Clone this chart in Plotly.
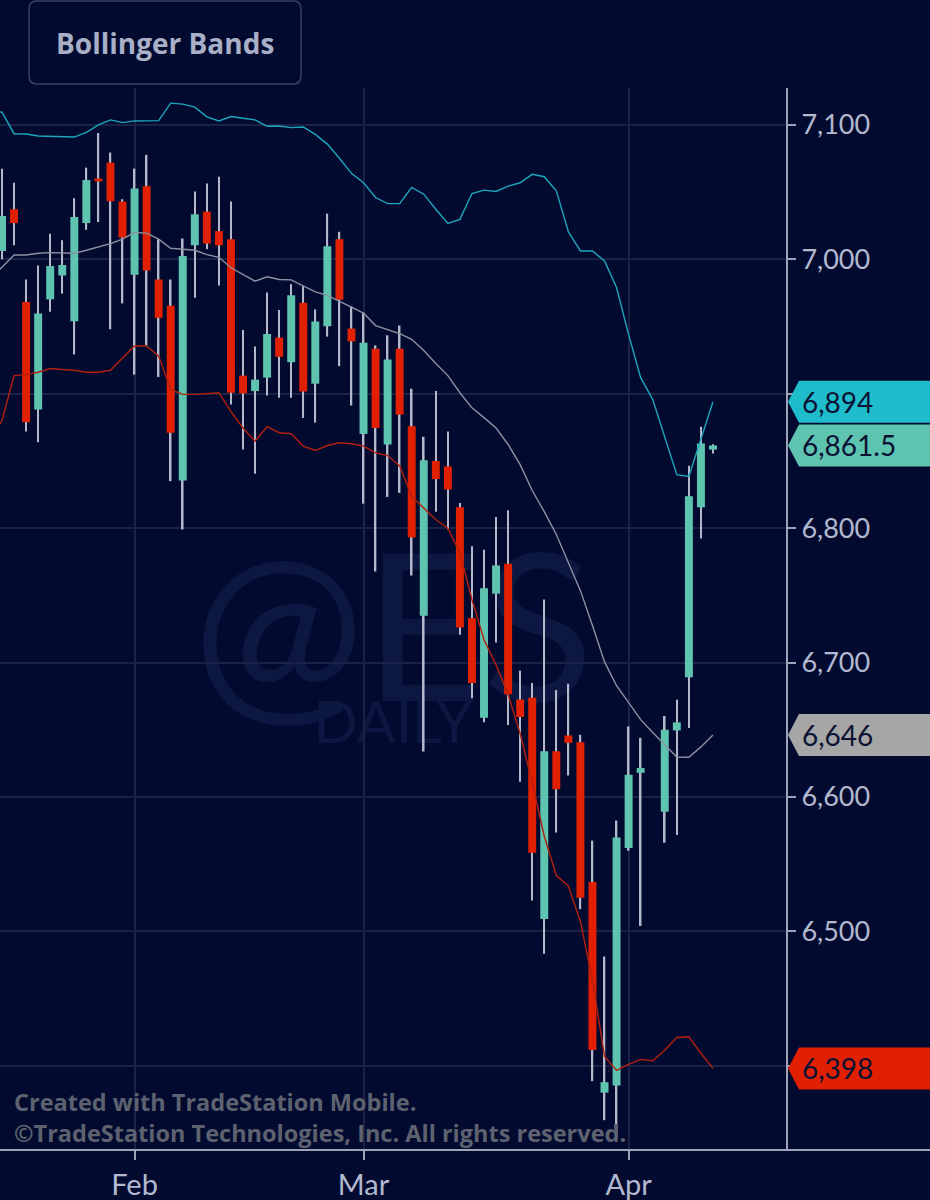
import plotly.graph_objects as go

# daily bars, ES futures (Apr 3 slot has no bar)
dates = [
    "2026-01-14", "2026-01-15", "2026-01-16", "2026-01-20", "2026-01-21", "2026-01-22", "2026-01-23",
    "2026-01-26", "2026-01-27", "2026-01-28", "2026-01-29", "2026-01-30",
    "2026-02-02", "2026-02-03", "2026-02-04", "2026-02-05", "2026-02-06",
    "2026-02-09", "2026-02-10", "2026-02-11", "2026-02-12", "2026-02-13",
    "2026-02-17", "2026-02-18", "2026-02-19", "2026-02-20",
    "2026-02-23", "2026-02-24", "2026-02-25", "2026-02-26", "2026-02-27",
    "2026-03-02", "2026-03-03", "2026-03-04", "2026-03-05", "2026-03-06",
    "2026-03-09", "2026-03-10", "2026-03-11", "2026-03-12", "2026-03-13",
    "2026-03-16", "2026-03-17", "2026-03-18", "2026-03-19", "2026-03-20",
    "2026-03-23", "2026-03-24", "2026-03-25", "2026-03-26", "2026-03-27",
    "2026-03-30", "2026-03-31", "2026-04-01", "2026-04-02", "2026-04-03",
    "2026-04-06", "2026-04-07", "2026-04-08", "2026-04-09", "2026-04-10",
]

opens = [None, 7006.25, 7037.25, 6968.25, 6888.25, 6970.25, 6988.0, 6954.0, 7027.0, 7060.25, 7072.0, 7043.0,
         6988.5, 7054.5, 6985.0, 6965.5, 6835.5, 7010.5, 7035.5, 7021.0, 7015.0, 6913.5,
         6902.0, 6912.0, 6941.75, 6923.5, 6967.75, 6907.5, 6950.25, 7015.0, 6948.5,
         6870.0, 6933.5, 6862.25, 6933.5, 6875.75, 6734.75, 6850.0, 6846.0, 6815.5, 6733.0,
         6659.0, 6751.25, 6773.5, 6672.5, 6673.75, 6509.25, 6634.0, 6645.75, 6640.75, 6536.75,
         6380.0, 6385.25, 6562.0, 6618.0, None, 6589.0, 6649.5, 6689.0, 6815.5, 6858.5]
highs = [None, 7067.5, 7057.0, 6985.0, 6995.5, 7019.0, 7014.25, 7045.5, 7068.25, 7094.0, 7079.5, 7044.75,
         7067.5, 7077.75, 7015.0, 6985.0, 7015.5, 7050.5, 7056.5, 7061.5, 7043.0, 6947.5,
         6935.25, 6975.25, 6962.25, 6981.5, 6980.0, 6962.75, 7034.0, 7020.5, 6965.25,
         6960.5, 6936.0, 6943.5, 6950.75, 6903.75, 6868.0, 6902.0, 6872.0, 6818.75, 6786.5,
         6784.0, 6808.25, 6813.25, 6694.0, 6684.75, 6747.0, 6679.5, 6684.25, 6646.25, 6567.5,
         6481.25, 6582.5, 6652.5, 6644.0, None, 6660.25, 6672.25, 6846.5, 6875.5, 6862.5]
lows = [None, 7000.0, 7010.5, 6872.0, 6864.0, 6961.0, 6974.5, 6929.25, 7022.0, 7027.75, 6948.0, 6967.25,
        6914.25, 6936.0, 6912.5, 6835.0, 6799.0, 6971.5, 7007.5, 6980.5, 6892.0, 6858.5,
        6840.5, 6898.75, 6897.0, 6897.0, 6882.0, 6878.5, 6942.5, 6920.5, 6891.25,
        6818.25, 6767.75, 6823.25, 6826.25, 6764.75, 6633.75, 6812.25, 6799.0, 6720.75, 6673.5,
        6655.5, 6715.0, 6653.5, 6611.25, 6523.0, 6483.25, 6573.5, 6616.0, 6516.5, 6388.5,
        6359.5, 6346.0, 6560.0, 6504.0, None, 6566.0, 6571.75, 6651.25, 6792.25, 6855.5]
closes = [None, 7032.25, 7027.0, 6878.75, 6959.75, 6995.0, 6995.75, 7031.5, 7059.0, 7058.0, 7043.25, 7016.25,
          7052.75, 6991.75, 6956.5, 6871.0, 7002.5, 7033.5, 7011.75, 7010.5, 6900.75, 6900.25,
          6910.5, 6944.5, 6927.5, 6973.25, 6901.75, 6953.75, 7009.75, 6970.0, 6939.0,
          6938.0, 6874.5, 6925.5, 6884.5, 6793.0, 6850.5, 6836.5, 6828.75, 6726.0, 6684.75,
          6755.25, 6772.25, 6676.5, 6659.5, 6558.5, 6634.0, 6605.75, 6640.25, 6525.0, 6411.75,
          6387.75, 6569.75, 6616.5, 6621.5, None, 6650.0, 6655.5, 6823.75, 6863.0, 6861.5]

upper_band = [7111.0, 7109.5, 7093.5, 7093.25, 7091.75, 7091.5, 7091.0, 7091.0, 7094.5, 7100.0, 7103.75, 7101.75,
              7103.0, 7103.25, 7103.25, 7116.25, 7115.5, 7113.25, 7106.0, 7103.0, 7106.25, 7105.0,
              7103.75, 7099.0, 7099.25, 7098.0, 7098.5, 7093.0, 7085.75, 7075.25, 7064.0,
              7057.0, 7046.0, 7041.5, 7041.5, 7053.5, 7048.5, 7037.25, 7026.75, 7029.75, 7049.0,
              7051.5, 7050.5, 7054.5, 7057.0, 7063.25, 7061.5, 7051.0, 7020.5, 7006.25, 7006.25,
              6998.75, 6979.0, 6944.0, 6912.0, 6895.75, 6867.75, 6839.75, 6838.5, 6866.25, 6894.0]
middle_band = [6985.0, 6994.0, 7003.25, 7003.25, 7004.5, 7005.0, 7004.5, 7004.5, 7006.75, 7009.25, 7011.75, 7015.0,
               7020.0, 7019.5, 7015.0, 7008.25, 7007.5, 7006.75, 7003.5, 7001.5, 6993.75, 6988.75,
               6983.75, 6987.0, 6985.0, 6984.75, 6980.0, 6975.75, 6973.25, 6969.0, 6964.25,
               6960.0, 6950.75, 6948.0, 6944.75, 6940.5, 6932.25, 6922.5, 6913.5, 6900.75, 6889.5,
               6882.25, 6874.5, 6862.25, 6847.25, 6828.0, 6812.25, 6795.25, 6775.0, 6753.5, 6727.5,
               6700.5, 6682.75, 6670.0, 6657.5, 6648.0, 6638.75, 6629.75, 6629.5, 6637.25, 6646.0]
lower_band = [6866.0, 6880.0, 6913.5, 6914.25, 6916.0, 6918.75, 6918.0, 6917.5, 6916.0, 6916.0, 6917.5, 6926.75,
              6935.5, 6935.5, 6928.0, 6903.25, 6899.5, 6899.5, 6900.25, 6900.75, 6886.75, 6874.5,
              6864.75, 6875.5, 6871.0, 6870.25, 6861.0, 6857.75, 6861.5, 6863.5, 6862.75,
              6861.0, 6856.0, 6854.0, 6846.25, 6823.75, 6815.0, 6806.25, 6800.0, 6781.5, 6746.75,
              6717.0, 6698.25, 6676.25, 6647.0, 6610.5, 6570.75, 6541.5, 6533.75, 6507.25, 6463.75,
              6407.0, 6396.5, 6401.0, 6404.75, 6403.75, 6411.5, 6421.0, 6421.5, 6409.25, 6398.0]

month_ticks = ["2026-02-02", "2026-03-02", "2026-04-01"]
month_labels = ["Feb", "Mar", "Apr"]
# 6,400 and 6,900 sit under the value tags, so their labels stay blank
price_ticks = [6400, 6500, 6600, 6700, 6800, 6900, 7000, 7100]
price_labels = ["", "6,500", "6,600", "6,700", "6,800", "", "7,000", "7,100"]

BG = "#020b2f"
GRID = "#1a2345"
AXIS = "#9ea4b8"
TEXT = "#b3b9cf"
UP = "#5ec4b0"
DOWN = "#e02000"
WICK = "#b4b8ca"
FONT = "Lato"
BOLD = "Open Sans"

wick_len = [None if h is None else h - l for h, l in zip(highs, lows)]
body_base = [None if o is None else min(o, c) for o, c in zip(opens, closes)]
body_len = [None if o is None else abs(c - o) for o, c in zip(opens, closes)]
body_col = [UP if (o is None or c >= o) else DOWN for o, c in zip(opens, closes)]

fig = go.Figure()
# wicks and bodies as overlaid bars so the wick sits behind the body
fig.add_trace(go.Bar(x=dates, y=wick_len, base=lows, width=0.13,
                     marker=dict(color=WICK, line=dict(width=0)), hoverinfo="skip"))
fig.add_trace(go.Bar(x=dates, y=body_len, base=body_base, width=0.66,
                     marker=dict(color=body_col, line=dict(width=0)), hoverinfo="skip"))
fig.add_trace(go.Scatter(x=dates, y=upper_band, mode="lines", line=dict(color="#1fa6bd", width=1.4)))
fig.add_trace(go.Scatter(x=dates, y=middle_band, mode="lines", line=dict(color="#8e90a2", width=1.4)))
fig.add_trace(go.Scatter(x=dates, y=lower_band, mode="lines", line=dict(color="#b3200f", width=1.4)))

fig.update_layout(
    width=930,
    height=1200,
    paper_bgcolor=BG,
    plot_bgcolor=BG,
    margin=dict(l=0, r=144, t=88, b=50),
    barmode="overlay",
    showlegend=False,
    hovermode=False,
    font=dict(family=FONT, color=TEXT),
    xaxis=dict(type="category", range=[0.834, 66.06], tickmode="array",
               tickvals=month_ticks, ticktext=month_labels,
               showgrid=True, gridcolor=GRID, gridwidth=2,
               ticks="outside", ticklen=9, tickwidth=2, tickcolor=AXIS,
               tickfont=dict(family=FONT, size=29, color=TEXT),
               showline=False, zeroline=False),
    yaxis=dict(side="right", range=[6337.3, 7127.5], tickmode="array",
               tickvals=price_ticks, ticktext=price_labels,
               showgrid=True, gridcolor=GRID, gridwidth=2,
               ticks="outside", ticklen=8, tickwidth=2, tickcolor=AXIS,
               showline=True, linecolor=AXIS, linewidth=2,
               tickfont=dict(family=FONT, size=27, color=TEXT), zeroline=False),
)

# watermark behind the bars
fig.add_shape(type="rect", xref="paper", yref="paper", x0=0.25, x1=0.75, y0=0.45, y1=0.55,
              line=dict(width=0), fillcolor="rgba(0,0,0,0)", layer="below",
              label=dict(text="@ES", textposition="middle center",
                         font=dict(family=FONT, size=205, color="#0c1841")))
fig.add_shape(type="rect", xref="paper", yref="paper", x0=0.35, x1=0.65, y0=0.38, y1=0.43,
              line=dict(width=0), fillcolor="rgba(0,0,0,0)", layer="below",
              label=dict(text="DAILY", textposition="middle center",
                         font=dict(family=FONT, size=58, color="#0c1841")))

# bottom axis line runs the full width
fig.add_shape(type="line", xref="paper", yref="paper", x0=0, x1=930 / 786, y0=0, y1=0,
              line=dict(color=AXIS, width=2), layer="above")

# title box
fig.add_shape(type="path", xref="paper", yref="paper", xsizemode="pixel", ysizemode="pixel",
              xanchor=0, yanchor=1,
              path="M 37,87 H 293 Q 301,87 301,79 V 12 Q 301,4 293,4 H 37 Q 29,4 29,12 V 79 Q 29,87 37,87 Z",
              fillcolor=BG, line=dict(color="#384262", width=1.5), layer="above")
fig.add_annotation(xref="paper", yref="paper", x=165 / 786, y=(1150 - 43) / 1062,
                   text="<b>Bollinger Bands</b>", showarrow=False, xanchor="center", yanchor="middle",
                   font=dict(family=BOLD, size=28, color="#a8afc6"))

# last value tags on the price scale
tags = [
    (upper_band[-1], f"{upper_band[-1]:,.0f}", "#1fbccb"),
    (closes[-1], f"{closes[-1]:,.1f}", UP),
    (middle_band[-1], f"{middle_band[-1]:,.0f}", "#a6a6a6"),
    (lower_band[-1], f"{lower_band[-1]:,.0f}", DOWN),
]
for val, label, color in tags:
    fig.add_shape(type="path", xref="paper", yref="y", xsizemode="pixel", ysizemode="pixel",
                  xanchor=1, yanchor=val,
                  path="M 2,0 L 13,21 L 150,21 L 150,-21 L 13,-21 Z",
                  fillcolor=color, line=dict(width=0), layer="above")
    fig.add_annotation(xref="paper", yref="y", x=800 / 786, y=val, text=label, showarrow=False,
                       xanchor="left", yanchor="middle", font=dict(family=FONT, size=28, color="#0b1234"))

# footer
fig.add_annotation(xref="paper", yref="paper", x=12 / 786, y=(1150 - 1102) / 1062,
                   text="<b>Created with TradeStation Mobile.</b>", showarrow=False,
                   xanchor="left", yanchor="middle", font=dict(family=BOLD, size=23.5, color="#5e6270"))
fig.add_annotation(xref="paper", yref="paper", x=12 / 786, y=(1150 - 1133) / 1062,
                   text="<b>©TradeStation Technologies, Inc. All rights reserved.</b>", showarrow=False,
                   xanchor="left", yanchor="middle", font=dict(family=BOLD, size=23.5, color="#5e6270"))

fig.write_html("out.html", config={"displayModeBar": False},
               post_script="document.body.style.margin='0';document.body.style.padding='0';")
